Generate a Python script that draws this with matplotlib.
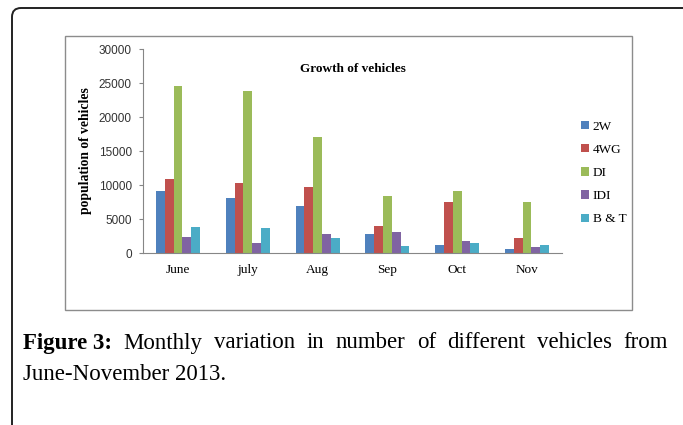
import numpy as np
import matplotlib
matplotlib.use("Agg")
import matplotlib.pyplot as plt
from matplotlib.patches import Rectangle, FancyBboxPatch
from matplotlib.transforms import IdentityTransform

# data
months = ["June", "july", "Aug", "Sep", "Oct", "Nov"]
series = ["2W", "4WG", "DI", "IDI", "B & T"]
two_w = [9100, 8100, 6850, 2850, 1130, 600]
four_wg = [10900, 10300, 9650, 3930, 7430, 2260]
di = [24500, 23800, 17000, 8400, 9050, 7430]
idi = [2400, 1400, 2800, 3100, 1820, 840]
b_t = [3800, 3650, 2260, 980, 1430, 1130]
colors = ["#4F81BD", "#C0504D", "#9BBB59", "#8064A2", "#4BACC6"]

W, H = 683, 425
fig = plt.figure(figsize=(W / 100, H / 100), dpi=100)
serif = "Liberation Serif"
sans = "Liberation Sans"

def px(x, y):
    return x, H - y

# outer rounded frame (only top and left visible)
fig.patches.append(FancyBboxPatch(px(12, 500), 900, 492,
                                  boxstyle="round,pad=0,rounding_size=9",
                                  transform=IdentityTransform(), fill=False,
                                  edgecolor="#222222", linewidth=1.4))
# chart box
fig.patches.append(Rectangle(px(65, 310), 632 - 65, 310 - 36,
                             transform=IdentityTransform(), fill=False,
                             edgecolor="#8c8c8c", linewidth=1.0))

ax = fig.add_axes([143 / W, 1 - 253 / H, (562 - 143) / W, (253 - 49) / H])
x = np.arange(len(months))
bw = 0.126
for i, (vals, name) in enumerate(zip([two_w, four_wg, di, idi, b_t], series)):
    ax.bar(x + (i - 2) * bw, vals, bw, color=colors[i], label=name)

ax.set_xlim(-0.5, len(months) - 0.5)
ax.set_ylim(0, 30000)
ax.set_yticks(range(0, 30001, 5000))
ax.set_xticks(x)
ax.set_xticklabels(months, fontfamily=serif, fontsize=9.5)
ax.tick_params(axis="x", length=0, pad=8)
ax.tick_params(axis="y", length=3, color="#868686", pad=5, labelsize=8.5,
               labelcolor="#333333")
for lab in ax.get_yticklabels():
    lab.set_fontfamily(sans)
for s in ["top", "right"]:
    ax.spines[s].set_visible(False)
for s in ["left", "bottom"]:
    ax.spines[s].set_color("#868686")
ax.set_ylabel("population of vehicles", fontfamily=serif, fontweight="bold",
              fontsize=9.8, labelpad=5)
ax.text(0.5, 0.9, "Growth of vehicles", transform=ax.transAxes, ha="center",
        va="center", fontfamily=serif, fontweight="bold", fontsize=9.5)

ax.legend(loc="center left", bbox_to_anchor=(569 / W, 1 - 173 / H),
          bbox_transform=fig.transFigure, frameon=False,
          prop={"family": serif, "size": 9.5}, handlelength=0.6,
          handleheight=0.6, handletextpad=0.3, labelspacing=0.85)

# caption, first line justified
fs = 16.5
rend = fig.canvas.get_renderer()
y1, y2 = 1 - 343 / H, 1 - 375 / H
left, right = 23 / W, 668 / W
words = [("Figure 3:", "bold"), ("Monthly", "normal"), ("variation", "normal"),
         ("in", "normal"), ("number", "normal"), ("of", "normal"),
         ("different", "normal"), ("vehicles", "normal"), ("from", "normal")]
texts = [fig.text(0, y1, w, fontfamily=serif, fontweight=wt, fontsize=fs,
                  va="center") for w, wt in words]
widths = [t.get_window_extent(rend).width / W for t in texts]
gap = (right - left - sum(widths)) / (len(texts) - 1)
pos = left
for t, wd in zip(texts, widths):
    t.set_x(pos)
    pos += wd + gap
fig.text(left, y2, "June-November 2013.", fontfamily=serif, fontsize=fs,
         va="center")

fig.savefig("out.png", dpi=100)
